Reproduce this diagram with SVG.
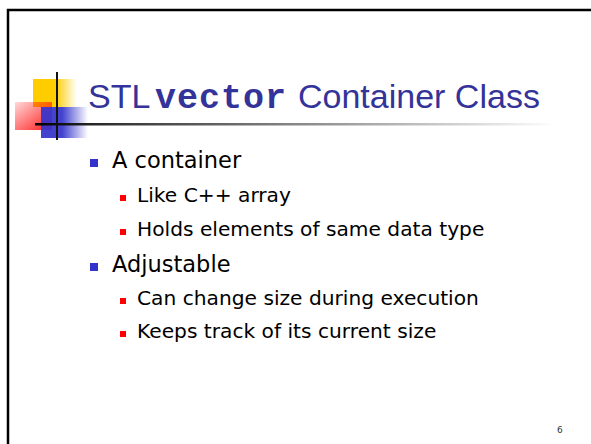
<svg xmlns="http://www.w3.org/2000/svg" width="591" height="444" viewBox="0 0 591 444">
<defs>
<linearGradient id="gY" x1="0" y1="0" x2="1" y2="0">
<stop offset="0" stop-color="#FFCC00"/><stop offset="0.5" stop-color="#FFCC00"/><stop offset="1" stop-color="#FFCC00" stop-opacity="0"/>
</linearGradient>
<linearGradient id="gR" x1="0" y1="0" x2="1" y2="1">
<stop offset="0" stop-color="#FF0000" stop-opacity="0.15"/><stop offset="1" stop-color="#FF0000" stop-opacity="0.9"/>
</linearGradient>
<linearGradient id="gB" x1="0" y1="0" x2="1" y2="0">
<stop offset="0" stop-color="#3333CC"/><stop offset="0.45" stop-color="#3333CC"/><stop offset="1" stop-color="#3333CC" stop-opacity="0"/>
</linearGradient>
<linearGradient id="gL" x1="0" y1="0" x2="1" y2="0">
<stop offset="0" stop-color="#000"/><stop offset="0.15" stop-color="#333"/><stop offset="1" stop-color="#fff"/>
</linearGradient>
<style>
.l1{font-family:"DejaVu Sans",Verdana,sans-serif;font-size:22.5px;fill:#000}
.l2{font-family:"DejaVu Sans",Verdana,sans-serif;font-size:20.2px;fill:#000}
.b1{fill:#3333CC}
.b2{fill:#FF0000}
.title{font-family:"Liberation Sans",Arial,sans-serif;font-size:34px;fill:#333399}
.mono{font-family:"Liberation Mono","Courier New",monospace;font-size:35px;font-weight:bold;fill:#333399}
</style>
</defs>
<rect width="591" height="444" fill="#fff"/>
<g id="border" fill="none" stroke="#000" stroke-width="2.5">
<path d="M8,444 V10 H591"/>
</g>
<g id="logo">
<rect x="33" y="79" width="44" height="28" fill="url(#gY)"/>
<rect x="15" y="102" width="37" height="28" fill="url(#gR)"/>
<rect x="41" y="107" width="47" height="31" fill="url(#gB)" opacity="0.92"/>
<rect x="56" y="72" width="2" height="68" fill="#111"/>
<rect x="35" y="123" width="522" height="2.5" fill="url(#gL)"/>
</g>
<g id="title">
<text class="title" x="88" y="108">STL</text>
<text class="mono" x="155" y="108" textLength="131" lengthAdjust="spacing">vector</text>
<text class="title" x="298" y="108">Container Class</text>
</g>
<g id="bullets">
<rect class="b1" x="90" y="159" width="8" height="8"/>
<text class="l1" x="112" y="168">A container</text>
<rect class="b2" x="120" y="195" width="6" height="6"/>
<text class="l2" x="137" y="202">Like C++ array</text>
<rect class="b2" x="120" y="229" width="6" height="6"/>
<text class="l2" x="137" y="236">Holds elements of same data type</text>
<rect class="b1" x="90" y="263" width="8" height="8"/>
<text class="l1" x="112" y="272">Adjustable</text>
<rect class="b2" x="120" y="298" width="6" height="6"/>
<text class="l2" x="137" y="305">Can change size during execution</text>
<rect class="b2" x="120" y="331" width="6" height="6"/>
<text class="l2" x="137" y="338">Keeps track of its current size</text>
</g>
<text id="page" x="557" y="433" font-family="DejaVu Sans,sans-serif" font-size="9" fill="#333">6</text>
</svg>
